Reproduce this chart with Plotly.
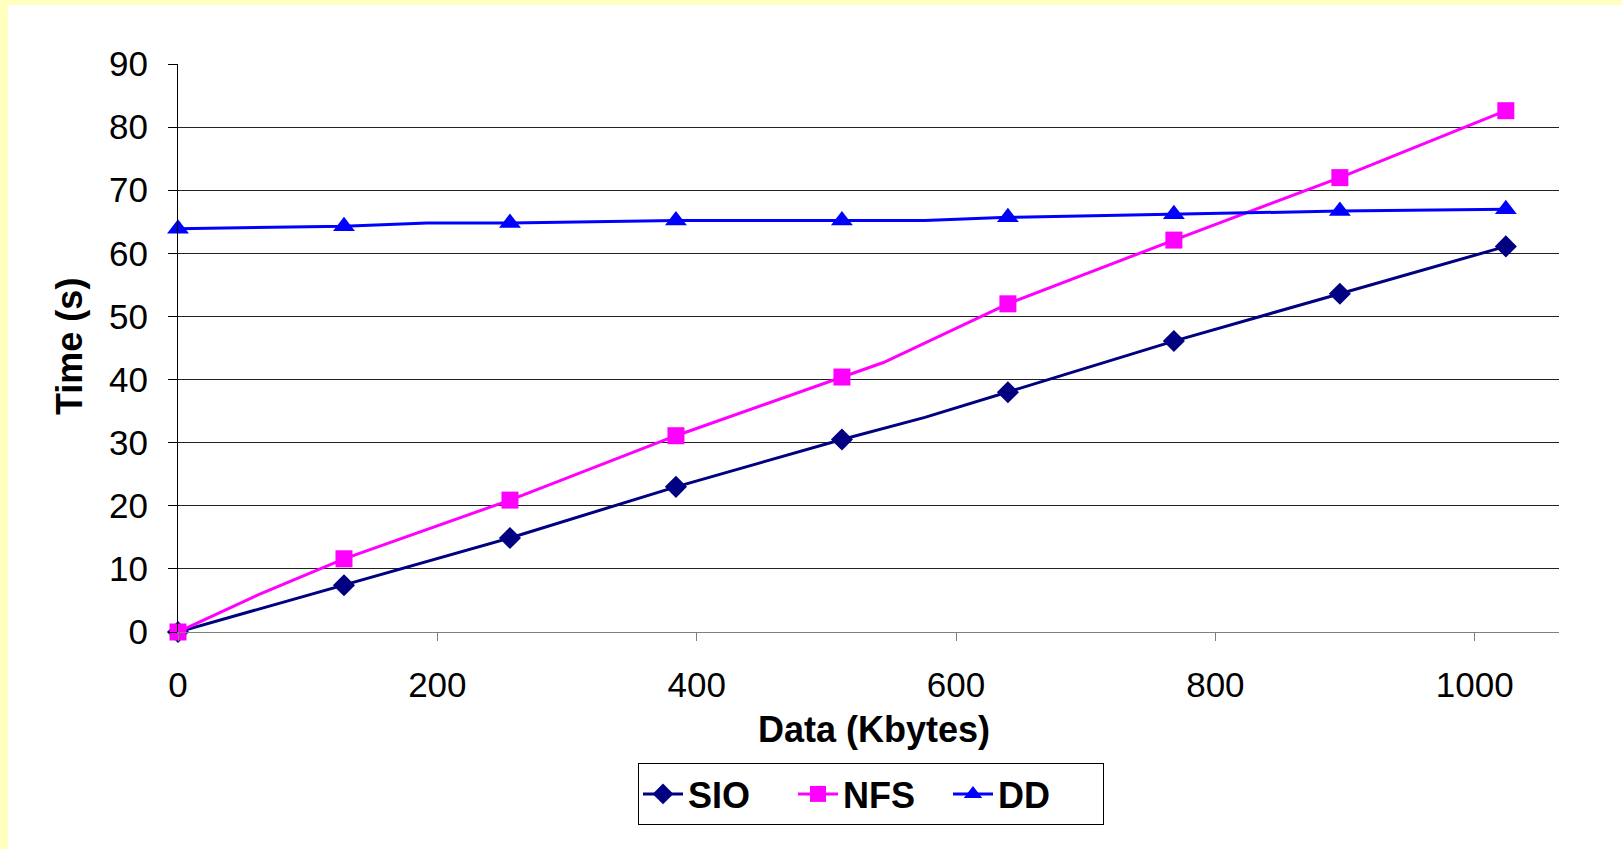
import plotly.graph_objects as go

# ---------------- data ----------------
# marker points (every 128 KB)
x_pts = [0, 128, 256, 384, 512, 640, 768, 896, 1024]
sio_pts = [0.0, 7.4, 14.9, 23.0, 30.5, 38.0, 46.1, 53.6, 61.1]
nfs_pts = [0.0, 11.6, 20.9, 31.1, 40.4, 52.0, 62.1, 72.0, 82.6]
dd_pts = [63.9, 64.3, 64.8, 65.2, 65.2, 65.7, 66.2, 66.7, 67.0]

# full line data (includes intermediate measurements without markers)
sio_x = [0, 128, 192, 256, 384, 512, 576, 640, 768, 896, 1024]
sio_y = [0.0, 7.4, 11.2, 14.9, 23.0, 30.5, 34.0, 38.0, 46.1, 53.6, 61.1]
nfs_x = [0, 64, 128, 256, 384, 512, 544, 640, 768, 896, 1024]
nfs_y = [0.0, 6.1, 11.6, 20.9, 31.1, 40.4, 42.7, 52.0, 62.1, 72.0, 82.6]
dd_x = [0, 128, 192, 256, 384, 512, 576, 640, 768, 896, 1024]
dd_y = [63.9, 64.3, 64.8, 64.8, 65.2, 65.2, 65.2, 65.7, 66.2, 66.7, 67.0]

series_names = ["SIO", "NFS", "DD"]
x_ticks = [0, 200, 400, 600, 800, 1000]
y_ticks = [0, 10, 20, 30, 40, 50, 60, 70, 80, 90]

colors = {"SIO": "#000080", "NFS": "#FF00FF", "DD": "#0000FF"}
symbols = {"SIO": "diamond", "NFS": "square", "DD": "triangle-up"}
msize = {"SIO": 17, "NFS": 17, "DD": 19}
lines = {"SIO": (sio_x, sio_y), "NFS": (nfs_x, nfs_y), "DD": (dd_x, dd_y)}
marks = {"SIO": sio_pts, "NFS": nfs_pts, "DD": dd_pts}

FONT = "Liberation Sans, Arial, sans-serif"

fig = go.Figure()
for name in series_names:
    lx, ly = lines[name]
    fig.add_trace(go.Scatter(
        x=lx, y=ly, mode="lines", name=name, legendgroup=name, showlegend=False,
        line=dict(color=colors[name], width=3), cliponaxis=False, hoverinfo="skip"))
    fig.add_trace(go.Scatter(
        x=x_pts, y=marks[name], mode="markers", name=name, legendgroup=name, showlegend=False,
        marker=dict(color=colors[name], symbol=symbols[name], size=msize[name]),
        cliponaxis=False))
# legend entries
for name in series_names:
    fig.add_trace(go.Scatter(
        x=[None], y=[None], mode="lines+markers", name=name, legendgroup=name,
        line=dict(color=colors[name], width=3),
        marker=dict(color=colors[name], symbol=symbols[name], size=msize[name])))

L, R, T, B = 178, 63, 64, 217
W, H = 1622, 849
pw, ph = W - L - R, H - T - B

def px_x(px):
    return (px - L) / pw

def px_y(py):
    return (H - B - py) / ph

fig.update_layout(
    width=W, height=H,
    margin=dict(l=L, r=R, t=T, b=B, pad=0),
    paper_bgcolor="#FFFFBF",
    plot_bgcolor="white",
    font=dict(family=FONT, size=35, color="black"),
    showlegend=True,
    legend=dict(
        orientation="h", x=px_x(871), xanchor="center", y=px_y(763), yanchor="top",
        bordercolor="black", borderwidth=1, bgcolor="white",
        font=dict(family=FONT, size=36, color="black", weight="bold"),
        itemwidth=40, entrywidth=100, tracegroupgap=0,
    ),
    shapes=[dict(type="rect", xref="paper", yref="paper",
                 x0=px_x(8), x1=px_x(W + 20), y0=px_y(H + 20), y1=px_y(5),
                 fillcolor="white", line=dict(width=0), layer="below")],
    annotations=[
        dict(text="<b>Time (s)</b>", xref="paper", yref="paper", x=px_x(70), y=px_y(347),
             xanchor="center", yanchor="middle", textangle=-90, showarrow=False,
             font=dict(family=FONT, size=36, color="black")),
        dict(text="<b>Data (Kbytes)</b>", xref="paper", yref="paper", x=px_x(874), y=px_y(729),
             xanchor="center", yanchor="middle", showarrow=False,
             font=dict(family=FONT, size=36, color="black")),
    ],
)
fig.update_xaxes(
    range=[0, 1065], tickvals=x_ticks, ticktext=[str(v) for v in x_ticks],
    showgrid=False, zeroline=False, showline=True, linecolor="#808080", linewidth=1,
    ticks="outside", ticklen=8, tickcolor="#808080", tickwidth=1,
    ticklabelstandoff=14, tickfont=dict(size=35),
)
fig.update_yaxes(
    range=[0, 90], tickvals=y_ticks, ticktext=[str(v) for v in y_ticks],
    showgrid=True, gridcolor="#222222", gridwidth=1, zeroline=False,
    showline=True, linecolor="black", linewidth=1,
    ticks="outside", ticklen=9, tickcolor="black", tickwidth=1,
    ticklabelstandoff=13, tickfont=dict(size=35),
)
fig.write_html("out.html")
